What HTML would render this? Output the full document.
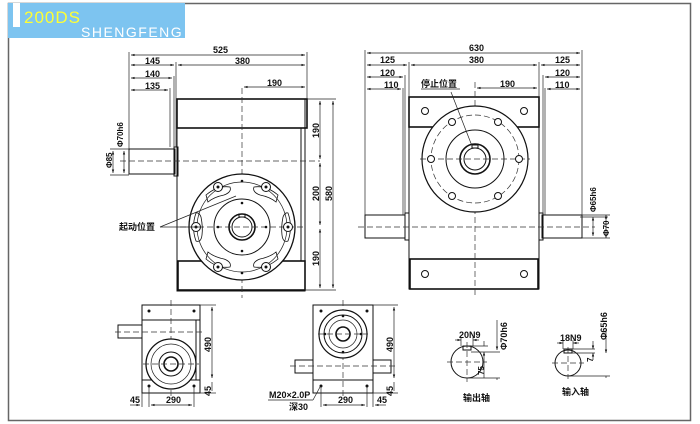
<!DOCTYPE html>
<html><head><meta charset="utf-8"><style>
html,body{margin:0;padding:0;background:#fff;width:700px;height:424px;overflow:hidden}
svg{display:block}
text{font-family:"Liberation Sans","Noto Sans CJK SC",sans-serif;font-weight:bold;fill:#111;font-size:9px}
.l{stroke:#111;fill:none;stroke-width:1}
.t{stroke:#111;fill:none;stroke-width:1.6}
.d{stroke:#222;fill:none;stroke-width:.7}
.c{stroke:#333;fill:none;stroke-width:.7;stroke-dasharray:6 3}
.g{fill:#fff;stroke:#111;stroke-width:1}
</style></head><body>
<svg width="700" height="424" viewBox="0 0 700 424" xmlns="http://www.w3.org/2000/svg">
<defs>
<marker id="a" viewBox="0 0 6 6" refX="6" refY="3" markerWidth="5" markerHeight="5" orient="auto-start-reverse"><path d="M0,1 L6,3 L0,5z" fill="#111"/></marker>
</defs>
<rect x="8.5" y="3.5" width="682" height="417" fill="#fff" stroke="#666" stroke-width="1.5"/>
<rect x="8" y="3" width="177" height="35" fill="#7dc4f0"/>
<rect x="13" y="3" width="7" height="24" fill="#fff"/>
<text x="24" y="23" style="font-size:17px;font-weight:normal;fill:#ffff33;letter-spacing:1px">200DS</text>
<text x="81" y="37" style="font-size:14px;font-weight:normal;fill:#fff;letter-spacing:1.5px">SHENGFENG</text>

<!-- LEFT MAIN VIEW -->
<g>
<rect x="177" y="99" width="128" height="192" class="g"/>
<rect x="177" y="99" width="130" height="29" class="t" fill="#fff"/>
<rect x="178" y="261" width="127" height="29" class="t" fill="#fff"/>
<line x1="301" y1="128" x2="301" y2="261" class="l"/>
<rect x="129" y="149" width="46" height="25" class="g"/>
<rect x="174" y="147" width="4" height="29" class="l"/>
<line x1="120" y1="161" x2="320" y2="161" class="c"/>
<line x1="242" y1="88" x2="242" y2="298" class="c"/>
<circle cx="242" cy="227" r="53" fill="#fff" stroke="#111" stroke-width="1.3"/>
<circle cx="242" cy="227" r="45" class="d"/>
<circle cx="242" cy="227" r="28" class="l"/>
<circle cx="242" cy="227" r="13" class="t"/>
<circle cx="242" cy="227" r="10" class="l"/>
<rect x="239" y="214" width="6" height="3" class="l"/>
<line x1="180" y1="227" x2="305" y2="227" class="c"/>
<g stroke="#111" fill="none" stroke-width=".8">
<path d="M206,195 q12,-10 24,-8 q2,5 -6,8 q-10,2 -16,7z"/>
<path d="M278,195 q-12,-10 -24,-8 q-2,5 6,8 q10,2 16,7z"/>
<path d="M206,259 q12,10 24,8 q2,-5 -6,-8 q-10,-2 -16,-7z"/>
<path d="M278,259 q-12,10 -24,8 q-2,-5 6,-8 q10,-2 16,-7z"/>
<path d="M196,213 q-5,14 0,28 q5,2 6,-6 q1,-8 -1,-18 q-2,-5 -5,-4z"/>
<path d="M288,213 q5,14 0,28 q-5,2 -6,-6 q-1,-8 1,-18 q2,-5 5,-4z"/>
</g>
<g fill="#fff" stroke="#111" stroke-width="1"><circle cx="218" cy="187" r="4.5"/><circle cx="266" cy="187" r="4.5"/><circle cx="218" cy="267" r="4.5"/><circle cx="266" cy="267" r="4.5"/><circle cx="196" cy="227" r="4.5"/><circle cx="288" cy="227" r="4.5"/></g>
<g fill="#111"><circle cx="218" cy="187" r="1.5"/><circle cx="266" cy="187" r="1.5"/><circle cx="218" cy="267" r="1.5"/><circle cx="266" cy="267" r="1.5"/><circle cx="196" cy="227" r="1.5"/><circle cx="288" cy="227" r="1.5"/>
<circle cx="242" cy="181" r="1.3"/><circle cx="242" cy="273" r="1.3"/><circle cx="242" cy="203" r="1.3"/><circle cx="242" cy="251" r="1.3"/><circle cx="218" cy="227" r="1.3"/><circle cx="266" cy="227" r="1.3"/></g>
<line x1="160" y1="227" x2="200" y2="227" class="d"/>
<line x1="160" y1="227" x2="236" y2="196" class="d"/>
<text x="119" y="230">起动位置</text>
<g class="d">
<line x1="129" y1="52" x2="129" y2="149"/><line x1="307" y1="52" x2="307" y2="99"/>
<line x1="176" y1="62" x2="176" y2="147"/><line x1="174" y1="76" x2="174" y2="147"/><line x1="170" y1="88" x2="170" y2="147"/>
<line x1="131" y1="55" x2="305" y2="55" marker-start="url(#a)" marker-end="url(#a)"/>
<line x1="131" y1="65" x2="174" y2="65" marker-start="url(#a)" marker-end="url(#a)"/>
<line x1="178" y1="65" x2="305" y2="65" marker-start="url(#a)" marker-end="url(#a)"/>
<line x1="131" y1="78" x2="172" y2="78" marker-start="url(#a)" marker-end="url(#a)"/>
<line x1="131" y1="90" x2="168" y2="90" marker-start="url(#a)" marker-end="url(#a)"/>
<line x1="244" y1="87" x2="305" y2="87" marker-start="url(#a)" marker-end="url(#a)"/>
<line x1="307" y1="99" x2="336" y2="99"/><line x1="305" y1="290" x2="336" y2="290"/>
<line x1="320" y1="101" x2="320" y2="159" marker-start="url(#a)" marker-end="url(#a)"/>
<line x1="320" y1="163" x2="320" y2="225" marker-start="url(#a)" marker-end="url(#a)"/>
<line x1="320" y1="229" x2="320" y2="288" marker-start="url(#a)" marker-end="url(#a)"/>
<line x1="333" y1="101" x2="333" y2="288" marker-start="url(#a)" marker-end="url(#a)"/>
<line x1="110" y1="149" x2="129" y2="149"/><line x1="110" y1="175" x2="129" y2="175"/>
<line x1="113" y1="151" x2="113" y2="173" marker-start="url(#a)" marker-end="url(#a)"/>
<line x1="124" y1="151" x2="124" y2="173" marker-start="url(#a)" marker-end="url(#a)"/>
</g>
<text x="213" y="53">525</text><text x="145" y="64">145</text><text x="235" y="64">380</text>
<text x="145" y="77">140</text><text x="145" y="89">135</text><text x="267" y="86">190</text>
<text transform="translate(319,138) rotate(-90)">190</text>
<text transform="translate(319,201) rotate(-90)">200</text>
<text transform="translate(319,266) rotate(-90)">190</text>
<text transform="translate(332,201) rotate(-90)">580</text>
<text transform="translate(112,168) rotate(-90)" style="font-size:8px">Φ85</text>
<text transform="translate(123,147) rotate(-90)" style="font-size:8px">Φ70h6</text>
</g>

<!-- RIGHT MAIN VIEW -->
<g>
<rect x="409" y="97" width="130" height="192" class="g"/>
<rect x="409" y="97" width="130" height="30" class="t" fill="#fff"/>
<rect x="410" y="259" width="128" height="30" class="t" fill="#fff"/>
<rect x="365" y="215" width="40" height="23" class="g"/>
<rect x="405" y="213" width="4" height="27" class="l"/>
<rect x="542" y="215" width="40" height="23" class="g"/>
<rect x="539" y="213" width="4" height="27" class="l"/>
<line x1="358" y1="227" x2="595" y2="227" class="c"/>
<line x1="475" y1="82" x2="475" y2="296" class="c"/>
<circle cx="475" cy="159" r="53" fill="#fff" stroke="#111" stroke-width="1.2"/>
<circle cx="475" cy="159" r="44" class="c"/>
<circle cx="475" cy="159" r="29" class="l"/>
<circle cx="475" cy="159" r="15" class="t"/>
<circle cx="475" cy="159" r="11" class="l"/>
<rect x="472" y="145" width="6" height="3" class="l"/>
<line x1="420" y1="159" x2="530" y2="159" class="c"/>
<g fill="#fff" stroke="#111" stroke-width="1"><circle cx="425" cy="111" r="3.5"/><circle cx="524" cy="111" r="3.5"/><circle cx="425" cy="274" r="3.5"/><circle cx="524" cy="274" r="3.5"/>
<circle cx="452" cy="122" r="3.5"/><circle cx="498" cy="122" r="3.5"/><circle cx="431" cy="159" r="3.5"/><circle cx="519" cy="159" r="3.5"/><circle cx="452" cy="196" r="3.5"/><circle cx="498" cy="196" r="3.5"/></g>
<line x1="451" y1="92" x2="472" y2="146" class="d"/>
<text x="421" y="87">停止位置</text>
<line x1="421" y1="89" x2="460" y2="89" class="d"/>
<g class="d">
<line x1="365" y1="50" x2="365" y2="215"/><line x1="582" y1="50" x2="582" y2="215"/>
<line x1="409" y1="62" x2="409" y2="97"/><line x1="539" y1="62" x2="539" y2="97"/>
<line x1="405" y1="75" x2="405" y2="213"/><line x1="543" y1="75" x2="543" y2="213"/>
<line x1="403" y1="88" x2="403" y2="215"/><line x1="545" y1="88" x2="545" y2="215"/>
<line x1="367" y1="53" x2="580" y2="53" marker-start="url(#a)" marker-end="url(#a)"/>
<line x1="367" y1="65" x2="407" y2="65" marker-start="url(#a)" marker-end="url(#a)"/>
<line x1="411" y1="65" x2="537" y2="65" marker-start="url(#a)" marker-end="url(#a)"/>
<line x1="541" y1="65" x2="580" y2="65" marker-start="url(#a)" marker-end="url(#a)"/>
<line x1="367" y1="77" x2="403" y2="77" marker-start="url(#a)" marker-end="url(#a)"/>
<line x1="545" y1="77" x2="580" y2="77" marker-start="url(#a)" marker-end="url(#a)"/>
<line x1="367" y1="89" x2="401" y2="89" marker-start="url(#a)" marker-end="url(#a)"/>
<line x1="547" y1="89" x2="580" y2="89" marker-start="url(#a)" marker-end="url(#a)"/>
<line x1="477" y1="88" x2="537" y2="88" marker-start="url(#a)" marker-end="url(#a)"/>
<line x1="582" y1="215" x2="610" y2="215"/><line x1="582" y1="238" x2="610" y2="238"/>
<line x1="580" y1="217" x2="608" y2="217"/>
<line x1="593" y1="217" x2="593" y2="236" marker-start="url(#a)" marker-end="url(#a)"/>
<line x1="606" y1="215" x2="606" y2="238" marker-start="url(#a)" marker-end="url(#a)"/>
</g>
<text x="469" y="51">630</text><text x="380" y="63">125</text><text x="469" y="63">380</text><text x="555" y="63">125</text>
<text x="380" y="76">120</text><text x="555" y="76">120</text><text x="384" y="88">110</text><text x="555" y="88">110</text>
<text x="500" y="87">190</text>
<text transform="translate(596,212) rotate(-90)" style="font-size:8px">Φ65h6</text>
<text transform="translate(609,236) rotate(-90)" style="font-size:8px">Φ70</text>
</g>

<!-- BOTTOM VIEW 1 -->
<g>
<rect x="142" y="305" width="58" height="88" class="g"/>
<line x1="142" y1="320" x2="200" y2="320" class="l"/><line x1="142" y1="380" x2="200" y2="380" class="l"/>
<line x1="196" y1="320" x2="196" y2="380" class="l"/>
<rect x="118" y="325" width="24" height="13" class="g"/>
<line x1="115" y1="332" x2="205" y2="332" class="c"/>
<line x1="171" y1="300" x2="171" y2="398" class="c"/>
<circle cx="171" cy="364" r="25" fill="#fff" stroke="#111" stroke-width="1.3"/>
<circle cx="171" cy="364" r="20" class="d"/>
<circle cx="171" cy="364" r="12" class="l"/><circle cx="171" cy="364" r="7" class="t"/>
<line x1="143" y1="364" x2="199" y2="364" class="c"/>
<g fill="#111"><circle cx="149" cy="311" r="1.5"/><circle cx="194" cy="311" r="1.5"/><circle cx="149" cy="386" r="1.5"/><circle cx="194" cy="386" r="1.5"/></g>
<g class="d">
<line x1="200" y1="305" x2="216" y2="305"/><line x1="200" y1="393" x2="216" y2="393"/>
<line x1="212" y1="307" x2="212" y2="378" marker-start="url(#a)" marker-end="url(#a)"/>
<line x1="212" y1="382" x2="212" y2="391" />
<line x1="149" y1="386" x2="149" y2="407"/><line x1="194" y1="386" x2="194" y2="407"/><line x1="142" y1="393" x2="142" y2="407"/>
<line x1="151" y1="405" x2="192" y2="405" marker-start="url(#a)" marker-end="url(#a)"/>
<line x1="130" y1="405" x2="140" y2="405" marker-end="url(#a)"/>
</g>
<text transform="translate(211,352) rotate(-90)">490</text>
<text transform="translate(211,396) rotate(-90)">45</text>
<text x="130" y="403">45</text><text x="166" y="403">290</text>
</g>

<!-- BOTTOM VIEW 2 -->
<g>
<rect x="313" y="305" width="60" height="88" class="g"/>
<line x1="313" y1="380" x2="373" y2="380" class="l"/>
<rect x="295" y="360" width="18" height="13" class="g"/>
<rect x="373" y="360" width="18" height="13" class="g"/>
<line x1="290" y1="366" x2="396" y2="366" class="c"/>
<line x1="343" y1="300" x2="343" y2="398" class="c"/>
<circle cx="343" cy="334" r="24" fill="#fff" stroke="#111" stroke-width="1.2"/>
<circle cx="343" cy="334" r="19" class="l"/>
<circle cx="343" cy="334" r="14" class="d"/>
<circle cx="343" cy="334" r="7" class="t" stroke-width="2.5"/>
<line x1="318" y1="334" x2="368" y2="334" class="c"/>
<g fill="#111"><circle cx="321" cy="311" r="1.5"/><circle cx="367" cy="311" r="1.5"/><circle cx="321" cy="386" r="1.5"/><circle cx="367" cy="386" r="1.5"/>
<circle cx="325" cy="334" r="1.3"/><circle cx="361" cy="334" r="1.3"/><circle cx="343" cy="316" r="1.3"/><circle cx="343" cy="352" r="1.3"/></g>
<g class="d">
<line x1="373" y1="305" x2="398" y2="305"/><line x1="373" y1="393" x2="398" y2="393"/>
<line x1="394" y1="307" x2="394" y2="378" marker-start="url(#a)" marker-end="url(#a)"/>
<line x1="394" y1="382" x2="394" y2="391"/>
<line x1="321" y1="386" x2="321" y2="407"/><line x1="367" y1="386" x2="367" y2="407"/><line x1="373" y1="393" x2="373" y2="407"/>
<line x1="323" y1="405" x2="365" y2="405" marker-start="url(#a)" marker-end="url(#a)"/>
<line x1="386" y1="405" x2="375" y2="405" marker-end="url(#a)"/>
<line x1="268" y1="400" x2="313" y2="400"/><line x1="313" y1="400" x2="320" y2="387"/>
</g>
<text transform="translate(393,352) rotate(-90)">490</text>
<text transform="translate(393,396) rotate(-90)">45</text>
<text x="338" y="403">290</text><text x="377" y="403">45</text>
<text x="269" y="398">M20×2.0P</text><text x="289" y="410">深30</text>
</g>

<!-- SHAFT DETAILS -->
<g>
<circle cx="467" cy="362" r="16" class="l" stroke-width="1.2"/>
<line x1="447" y1="362" x2="487" y2="362" class="c"/><line x1="467" y1="342" x2="467" y2="382" class="c"/>
<rect x="463" y="346" width="8" height="4" class="l"/>
<g class="d">
<line x1="461" y1="337" x2="461" y2="346"/><line x1="473" y1="337" x2="473" y2="346"/>
<line x1="455" y1="340" x2="461" y2="340" marker-end="url(#a)"/><line x1="479" y1="340" x2="473" y2="340" marker-end="url(#a)"/>
<line x1="471" y1="346" x2="488" y2="346"/><line x1="467" y1="378" x2="500" y2="378"/><line x1="471" y1="352" x2="500" y2="352"/>
<line x1="484" y1="341" x2="484" y2="346" /><line x1="484" y1="378" x2="484" y2="352" marker-end="url(#a)"/>
<line x1="497" y1="320" x2="497" y2="350" marker-end="url(#a)"/><line x1="497" y1="378" x2="497" y2="380"/>
</g>
<text x="459" y="338">20N9</text>
<text transform="translate(484,375) rotate(-90)" style="font-size:8px">75</text>
<text transform="translate(507,350) rotate(-90)">Φ70h6</text>
<text x="463" y="401">输出轴</text>

<circle cx="568" cy="363" r="13" class="l" stroke-width="1.2"/>
<line x1="552" y1="363" x2="584" y2="363" class="c"/><line x1="568" y1="347" x2="568" y2="379" class="c"/>
<rect x="564" y="349" width="8" height="4" class="l"/>
<g class="d">
<line x1="563" y1="340" x2="563" y2="349"/><line x1="573" y1="340" x2="573" y2="349"/>
<line x1="557" y1="343" x2="563" y2="343" marker-end="url(#a)"/><line x1="579" y1="343" x2="573" y2="343" marker-end="url(#a)"/>
<line x1="572" y1="349" x2="595" y2="349"/><line x1="572" y1="353" x2="595" y2="353"/>
<line x1="568" y1="376" x2="610" y2="376"/>
<line x1="593" y1="341" x2="593" y2="349" marker-end="url(#a)"/><line x1="593" y1="360" x2="593" y2="353" marker-end="url(#a)"/>
<line x1="606" y1="330" x2="606" y2="353" marker-end="url(#a)"/><line x1="606" y1="376" x2="606" y2="378"/>
</g>
<text x="560" y="341">18N9</text>
<text transform="translate(593,362) rotate(-90)" style="font-size:8px">7</text>
<text transform="translate(607,340) rotate(-90)">Φ65h6</text>
<text x="562" y="395">输入轴</text>
</g>
</svg>
</body></html>
